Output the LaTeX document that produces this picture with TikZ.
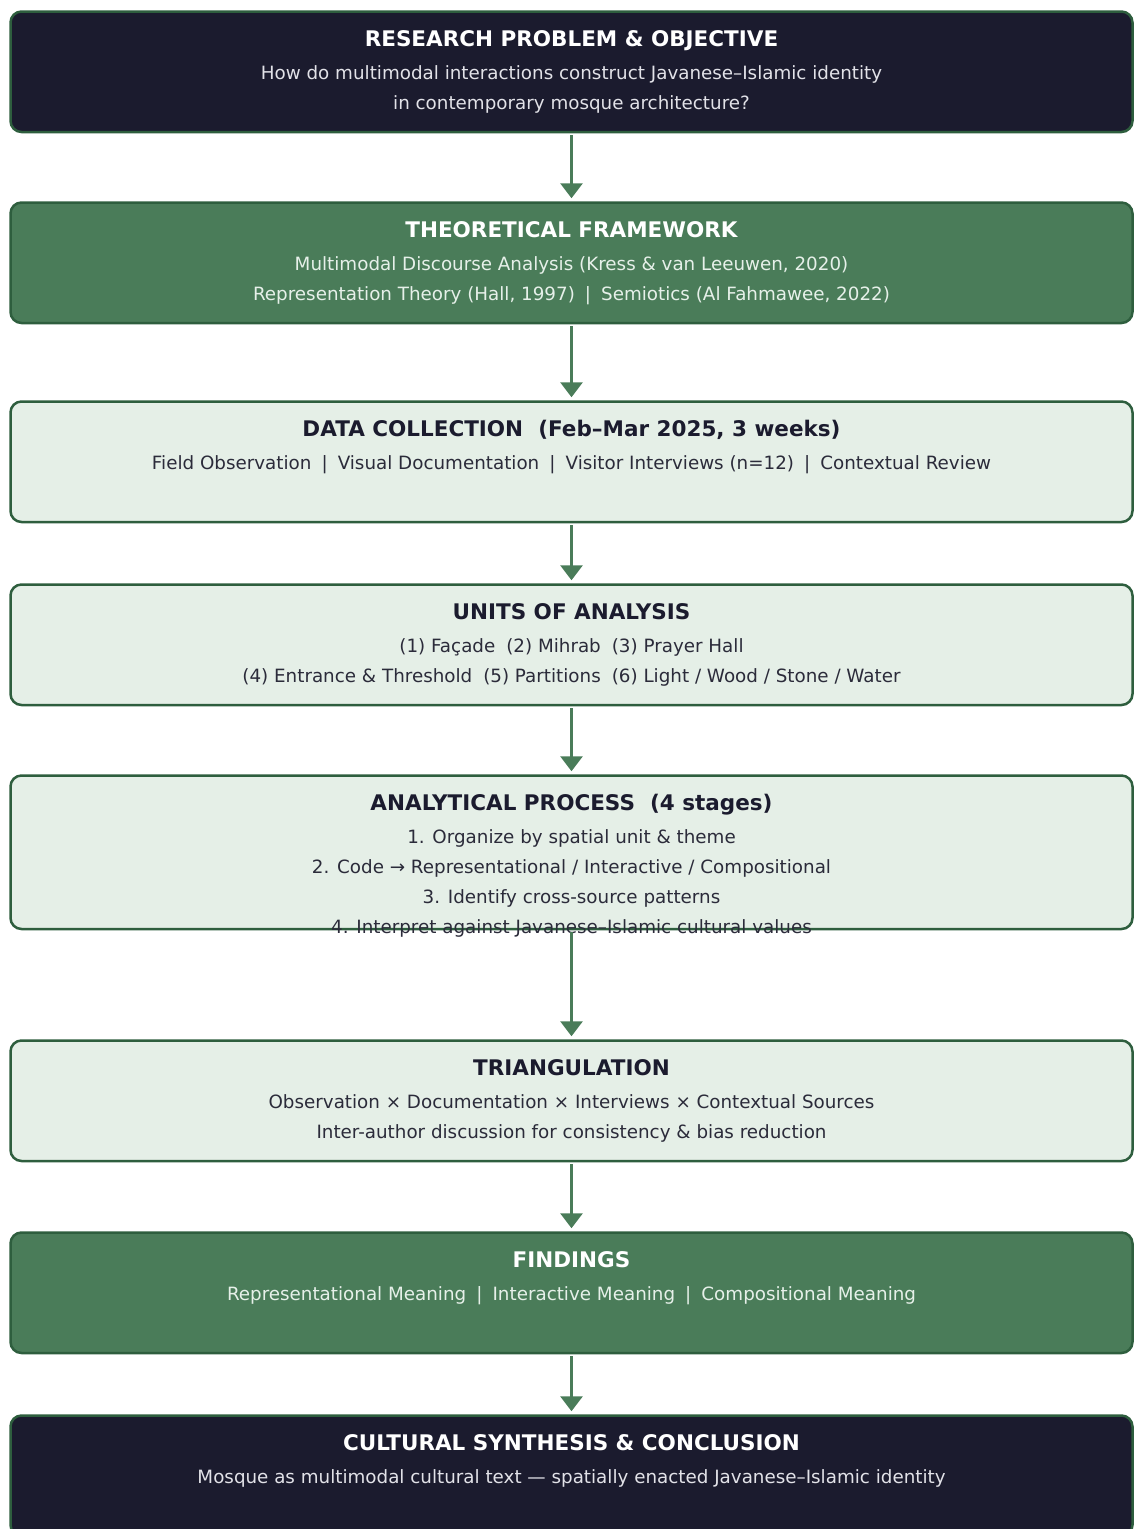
\documentclass[tikz,border=0pt]{standalone}
\usepackage{fontspec}
\setmainfont{DejaVu Sans}
\usetikzlibrary{positioning,arrows.meta,calc}

\definecolor{navy}{HTML}{1B1B2E}
\definecolor{leaf}{HTML}{4A7C59}
\definecolor{mint}{HTML}{E5EFE7}
\definecolor{rim}{HTML}{2E5E3E}
\definecolor{ink}{HTML}{2B2B3A}
\definecolor{pale}{HTML}{E2E2E8}
\definecolor{palegreen}{HTML}{E6F0E9}

\newcommand{\vsep}{\hspace{0.55em}|\hspace{0.55em}}

\tikzset{
  stage/.style={draw=rim,line width=2.5pt,rounded corners=11pt,minimum width=1122pt,
    minimum height=#1,anchor=north,inner sep=0pt},
  hd/.style={anchor=base,inner sep=0pt,font=\fontsize{21.5}{25}\selectfont\bfseries},
  txt/.style={anchor=base,inner sep=0pt,font=\fontsize{18.3}{22}\selectfont},
  flow/.style={draw=leaf,line width=3pt,-{Triangle[width=22pt,length=15pt]},
    shorten <=2pt,shorten >=3pt}
}

\begin{document}
\begin{tikzpicture}[x=1pt,y=-1pt]
  \useasboundingbox (0,0) rectangle (1134,1529);
  \clip (0,0) rectangle (1134,1529);

  % boxes
  \node[stage=120.5pt,fill=navy] (problem) at (571.5,10.25) {};
  \node[stage=120.5pt,fill=leaf] (frame) at (571.5,201.25) {};
  \node[stage=120.5pt,fill=mint] (collect) at (571.5,400.25) {};
  \node[stage=120.5pt,fill=mint] (units) at (571.5,583.25) {};
  \node[stage=153.5pt,fill=mint] (process) at (571.5,774.25) {};
  \node[stage=120.5pt,fill=mint] (triang) at (571.5,1039.25) {};
  \node[stage=120.5pt,fill=leaf] (finding) at (571.5,1231.25) {};
  \node[stage=120.5pt,fill=navy] (synth) at (571.5,1414.25) {};

  % texts
  \node[hd,text=white] (problem-t) at ($(problem.north)+(0,35.75)$) {RESEARCH PROBLEM \& OBJECTIVE};
  \node[txt,text=pale] (problem-1) at ($(problem.north)+(0,68.75)$) {How do multimodal interactions construct Javanese–Islamic identity};
  \node[txt,text=pale] (problem-2) at ($(problem.north)+(0,98.75)$) {in contemporary mosque architecture?};

  \node[hd,text=white] (frame-t) at ($(frame.north)+(0,35.75)$) {THEORETICAL FRAMEWORK};
  \node[txt,text=palegreen] (frame-1) at ($(frame.north)+(0,68.75)$) {Multimodal Discourse Analysis (Kress \& van Leeuwen, 2020)};
  \node[txt,text=palegreen] (frame-2) at ($(frame.north)+(0,98.75)$) {Representation Theory (Hall, 1997)\vsep Semiotics (Al Fahmawee, 2022)};

  \node[hd,text=navy] (collect-t) at ($(collect.north)+(0,35.75)$) {DATA COLLECTION\hspace{0.7em}(Feb–Mar 2025, 3 weeks)};
  \node[txt,text=ink] (collect-1) at ($(collect.north)+(0,68.75)$) {Field Observation\vsep Visual Documentation\vsep Visitor Interviews (n=12)\vsep Contextual Review};

  \node[hd,text=navy] (units-t) at ($(units.north)+(0,35.75)$) {UNITS OF ANALYSIS};
  \node[txt,text=ink] (units-1) at ($(units.north)+(0,68.75)$) {(1) Façade\hspace{0.6em}(2) Mihrab\hspace{0.6em}(3) Prayer Hall};
  \node[txt,text=ink] (units-2) at ($(units.north)+(0,98.75)$) {(4) Entrance \& Threshold\hspace{0.6em}(5) Partitions\hspace{0.6em}(6) Light / Wood / Stone / Water};

  \node[hd,text=navy] (process-t) at ($(process.north)+(0,35.75)$) {ANALYTICAL PROCESS\hspace{0.7em}(4 stages)};
  \node[txt,text=ink] (process-1) at ($(process.north)+(0,68.75)$) {1. Organize by spatial unit \& theme};
  \node[txt,text=ink] (process-2) at ($(process.north)+(0,98.75)$) {2. Code → Representational / Interactive / Compositional};
  \node[txt,text=ink] (process-3) at ($(process.north)+(0,128.75)$) {3. Identify cross-source patterns};
  \node[txt,text=ink] (process-4) at ($(process.north)+(0,158.75)$) {4. Interpret against Javanese–Islamic cultural values};

  \node[hd,text=navy] (triang-t) at ($(triang.north)+(0,35.75)$) {TRIANGULATION};
  \node[txt,text=ink] (triang-1) at ($(triang.north)+(0,68.75)$) {Observation × Documentation × Interviews × Contextual Sources};
  \node[txt,text=ink] (triang-2) at ($(triang.north)+(0,98.75)$) {Inter-author discussion for consistency \& bias reduction};

  \node[hd,text=white] (finding-t) at ($(finding.north)+(0,35.75)$) {FINDINGS};
  \node[txt,text=palegreen] (finding-1) at ($(finding.north)+(0,68.75)$) {Representational Meaning\vsep Interactive Meaning\vsep Compositional Meaning};

  \node[hd,text=white] (synth-t) at ($(synth.north)+(0,35.75)$) {CULTURAL SYNTHESIS \& CONCLUSION};
  \node[txt,text=pale] (synth-1) at ($(synth.north)+(0,68.75)$) {Mosque as multimodal cultural text — spatially enacted Javanese–Islamic identity};

  % arrows
  \draw[flow] (problem) -- (frame);
  \draw[flow] (frame) -- (collect);
  \draw[flow] (collect) -- (units);
  \draw[flow] (units) -- (process);
  \draw[flow] (process) -- (triang);
  \draw[flow] (triang) -- (finding);
  \draw[flow] (finding) -- (synth);
\end{tikzpicture}
\end{document}
